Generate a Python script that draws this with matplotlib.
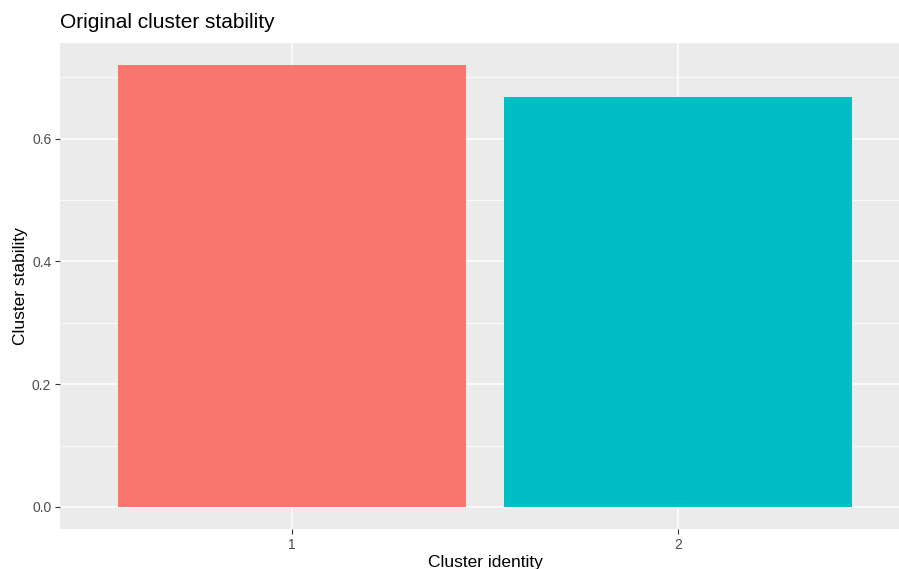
import matplotlib
matplotlib.use("Agg")
import matplotlib.pyplot as plt
from matplotlib.ticker import MultipleLocator

clusters = ["1", "2"]
stability = [0.720, 0.668]
colors = ["#F8766D", "#00BFC4"]

plt.rcParams['font.family'] = ['Liberation Sans', 'DejaVu Sans']

fig = plt.figure(figsize=(8.99, 5.69), dpi=100)
W, H = 899, 569
# panel extends slightly past the right edge of the image (as in the reference)
ax = fig.add_axes([60.5 / W, (H - 529) / H, 849 / W, 486 / H])
ax.set_facecolor("#EBEBEB")
for s in ax.spines.values():
    s.set_visible(False)

pos = list(range(1, len(clusters) + 1))
ax.bar(pos, stability, width=0.9, color=colors, zorder=3)

ax.set_xlim(0.4, 2.6)
ax.set_ylim(-0.036, 0.756)
ax.set_xticks(pos)
ax.set_xticklabels(clusters)
ax.yaxis.set_minor_locator(MultipleLocator(0.1))
ax.set_yticks([0.0, 0.2, 0.4, 0.6])
ax.set_yticklabels(["0.0", "0.2", "0.4", "0.6"])

ax.grid(which="major", color="white", linewidth=1.1, zorder=1)
ax.grid(which="minor", axis="y", color="white", linewidth=0.55, zorder=1)
ax.set_axisbelow(True)

ax.tick_params(axis="both", which="major", length=3.6, width=0.8, color="#333333",
               labelcolor="#4D4D4D", labelsize=10, pad=3)
ax.tick_params(axis="y", which="minor", length=0)

ax.set_xlabel("Cluster identity", fontsize=12.5, color="black", labelpad=2)
ax.set_ylabel("Cluster stability", fontsize=12.5, color="black", labelpad=3)
fig.text(60.5 / W, 1 - 23 / H, "Original cluster stability", fontsize=15,
         ha="left", va="center", color="black")

fig.savefig("out.png", dpi=100)
